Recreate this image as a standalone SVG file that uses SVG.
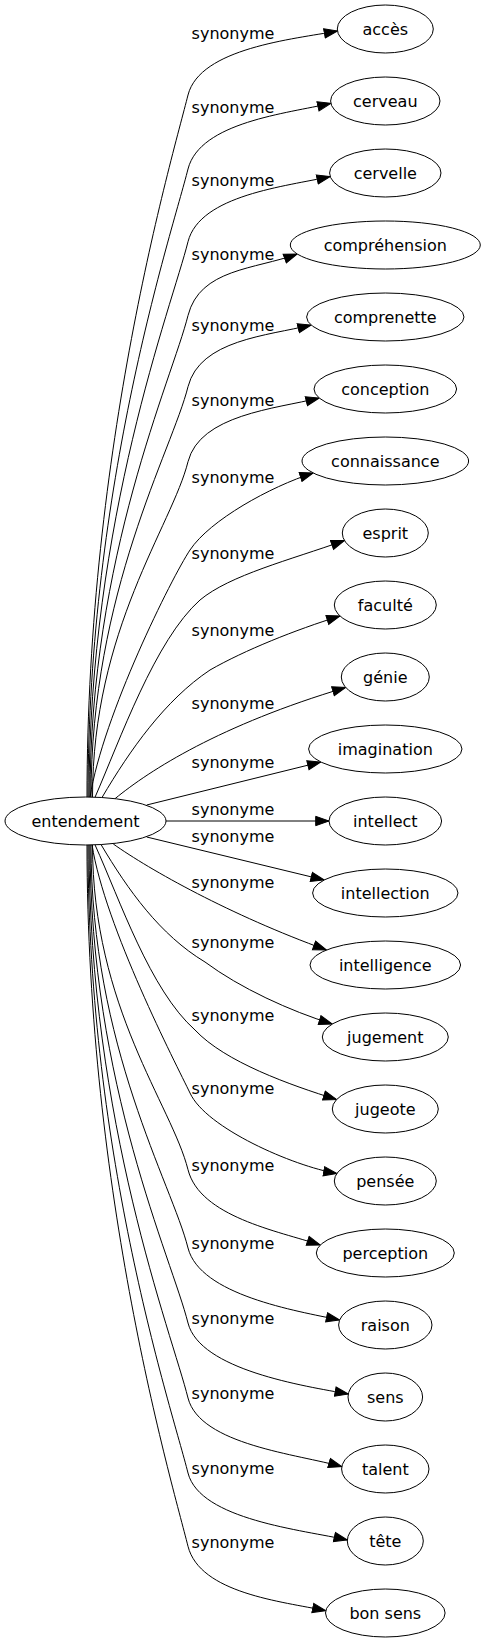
<svg xmlns="http://www.w3.org/2000/svg" width="485" height="1643" viewBox="0 0 485 1643">
<style>
text{font-family:"DejaVu Sans","Liberation Sans",sans-serif;font-size:16px;fill:#000;text-anchor:middle}
.node ellipse{fill:#fff;stroke:#000;stroke-width:1}
.edge path{fill:none;stroke:#000;stroke-width:1;marker-end:url(#arr)}
</style>
<defs>
<marker id="arr" viewBox="-14 -6 16 12" refX="0" refY="0" markerWidth="16" markerHeight="12" markerUnits="userSpaceOnUse" orient="auto">
<path d="M-13.3,-4.67 L0,0 L-13.3,4.67 Z" fill="#000" stroke="#000" stroke-width="1"/>
</marker>
</defs>
<rect width="485" height="1643" fill="#fff"/>
<g id="connectors">
<g class="edge"><path d="M87,797.2 C87,446.1 172,159 188,95 C200,48 293.3,39.2 337.5,31"/><text x="233" y="39.4">synonyme</text></g>
<g class="edge"><path d="M88,797.2 C88,483.1 172,233 188,169 C200,122 287.1,113.5 330.9,103.3"/><text x="233" y="113.4">synonyme</text></g>
<g class="edge"><path d="M89,797.2 C89,519.5 172,305.7 188,241.7 C200,194.7 286.3,186.5 330.2,176.5"/><text x="233" y="186.1">synonyme</text></g>
<g class="edge"><path d="M90,797.2 C90,556.4 172,379.5 188,315.5 C200,268.5 255,269.5 297.2,254"/><text x="233" y="259.9">synonyme</text></g>
<g class="edge"><path d="M91,797.2 C91,592 172,450.7 188,386.7 C200,339.7 267.4,335.8 311.1,325"/><text x="233" y="331.1">synonyme</text></g>
<g class="edge"><path d="M92.5,797.2 C92.5,629.5 172,525.7 188,461.7 C200,414.7 275.5,408.8 319.2,398"/><text x="233" y="406.1">synonyme</text></g>
<g class="edge"><path d="M90,797.2 C103,715 172,577 190,550 C210,520 270.3,486.7 313.2,473"/><text x="233" y="482.7">synonyme</text></g>
<g class="edge"><path d="M95,797.3 C120,740 155,640 200,600 C230,575 290,560 344.5,540.5"/><text x="233" y="559.4">synonyme</text></g>
<g class="edge"><path d="M102,797.5 C130,750 165,700 210,670 C245,650 295,630 340,616"/><text x="233" y="636.1">synonyme</text></g>
<g class="edge"><path d="M115,798.7 C150,770 220,725 345.7,687.5"/><text x="233" y="709.4">synonyme</text></g>
<g class="edge"><path d="M146.7,805 L320.8,762"/><text x="233" y="768.4">synonyme</text></g>
<g class="edge"><path d="M166,821 L329,821"/><text x="233" y="814.5">synonyme</text></g>
<g class="edge"><path d="M146.7,837 L324.2,880"/><text x="233" y="841.9">synonyme</text></g>
<g class="edge"><path d="M113.3,844 C150,870 230,915 326.5,950"/><text x="233" y="888.4">synonyme</text></g>
<g class="edge"><path d="M101,844.5 C128,890 160,935 205,962 C240,988 290,1011 332.3,1024"/><text x="233" y="947.7">synonyme</text></g>
<g class="edge"><path d="M95,844.8 C120,900 150,990 195,1030 C225,1062 290,1085 336.6,1099.5"/><text x="233" y="1021.1">synonyme</text></g>
<g class="edge"><path d="M92,844.8 C105,927 176,1064 190,1093 C206,1128 293,1166 336.9,1173.5"/><text x="233" y="1094.4">synonyme</text></g>
<g class="edge"><path d="M92.5,844.8 C92.5,1007.3 172,1105.7 188,1169.7 C200,1216.7 277.6,1230.9 320.3,1245"/><text x="233" y="1171.1">synonyme</text></g>
<g class="edge"><path d="M91,844.8 C91,1046.4 172,1184 188,1248 C200,1295 295.6,1310.8 339.6,1320"/><text x="233" y="1249.4">synonyme</text></g>
<g class="edge"><path d="M90,844.8 C90,1083.9 172,1259 188,1323 C200,1370 304,1386 348.3,1394"/><text x="233" y="1324.4">synonyme</text></g>
<g class="edge"><path d="M89,844.8 C89,1121.4 172,1334 188,1398 C200,1445 298.6,1454.2 341.8,1466.7"/><text x="233" y="1399.4">synonyme</text></g>
<g class="edge"><path d="M88,844.8 C88,1158.9 172,1409 188,1473 C200,1520 303.4,1529.9 347.3,1540"/><text x="233" y="1474.4">synonyme</text></g>
<g class="edge"><path d="M87,844.8 C87,1195.6 172,1482.3 188,1546.3 C200,1593.3 281.8,1601.5 325.8,1610.7"/><text x="233" y="1547.7">synonyme</text></g>
</g>
<g id="entendement" class="node"><ellipse cx="85.5" cy="821" rx="80.5" ry="24"/><text x="85.5" y="826.8">entendement</text></g>
<g id="acces" class="node"><ellipse cx="385.3" cy="29" rx="48" ry="24"/><text x="385.3" y="34.8">accès</text></g>
<g id="cerveau" class="node"><ellipse cx="385.3" cy="101" rx="54.7" ry="24"/><text x="385.3" y="106.8">cerveau</text></g>
<g id="cervelle" class="node"><ellipse cx="385.3" cy="173" rx="55.7" ry="24"/><text x="385.3" y="178.8">cervelle</text></g>
<g id="comprehension" class="node"><ellipse cx="385.3" cy="245" rx="95" ry="24"/><text x="385.3" y="250.8">compréhension</text></g>
<g id="comprenette" class="node"><ellipse cx="385.3" cy="317" rx="78.7" ry="24"/><text x="385.3" y="322.8">comprenette</text></g>
<g id="conception" class="node"><ellipse cx="385.3" cy="389" rx="71.3" ry="24"/><text x="385.3" y="394.8">conception</text></g>
<g id="connaissance" class="node"><ellipse cx="385.3" cy="461" rx="83.3" ry="24"/><text x="385.3" y="466.8">connaissance</text></g>
<g id="esprit" class="node"><ellipse cx="385.3" cy="533" rx="43" ry="24"/><text x="385.3" y="538.8">esprit</text></g>
<g id="faculte" class="node"><ellipse cx="385.3" cy="605" rx="51" ry="24"/><text x="385.3" y="610.8">faculté</text></g>
<g id="genie" class="node"><ellipse cx="385.3" cy="677" rx="44" ry="24"/><text x="385.3" y="682.8">génie</text></g>
<g id="imagination" class="node"><ellipse cx="385.3" cy="749" rx="76.7" ry="24"/><text x="385.3" y="754.8">imagination</text></g>
<g id="intellect" class="node"><ellipse cx="385.3" cy="821" rx="56.3" ry="24"/><text x="385.3" y="826.8">intellect</text></g>
<g id="intellection" class="node"><ellipse cx="385.3" cy="893" rx="72.7" ry="24"/><text x="385.3" y="898.8">intellection</text></g>
<g id="intelligence" class="node"><ellipse cx="385.3" cy="965" rx="75.3" ry="24"/><text x="385.3" y="970.8">intelligence</text></g>
<g id="jugement" class="node"><ellipse cx="385.3" cy="1037" rx="63" ry="24"/><text x="385.3" y="1042.8">jugement</text></g>
<g id="jugeote" class="node"><ellipse cx="385.3" cy="1109" rx="53" ry="24"/><text x="385.3" y="1114.8">jugeote</text></g>
<g id="pensee" class="node"><ellipse cx="385.3" cy="1181" rx="51" ry="24"/><text x="385.3" y="1186.8">pensée</text></g>
<g id="perception" class="node"><ellipse cx="385.3" cy="1253" rx="69" ry="24"/><text x="385.3" y="1258.8">perception</text></g>
<g id="raison" class="node"><ellipse cx="385.3" cy="1325" rx="46.7" ry="24"/><text x="385.3" y="1330.8">raison</text></g>
<g id="sens" class="node"><ellipse cx="385.3" cy="1397" rx="37.3" ry="24"/><text x="385.3" y="1402.8">sens</text></g>
<g id="talent" class="node"><ellipse cx="385.3" cy="1469" rx="43.7" ry="24"/><text x="385.3" y="1474.8">talent</text></g>
<g id="tete" class="node"><ellipse cx="385.3" cy="1541" rx="38" ry="24"/><text x="385.3" y="1546.8">tête</text></g>
<g id="bon_sens" class="node"><ellipse cx="385.3" cy="1613" rx="59.8" ry="24"/><text x="385.3" y="1618.8">bon sens</text></g>
</svg>
